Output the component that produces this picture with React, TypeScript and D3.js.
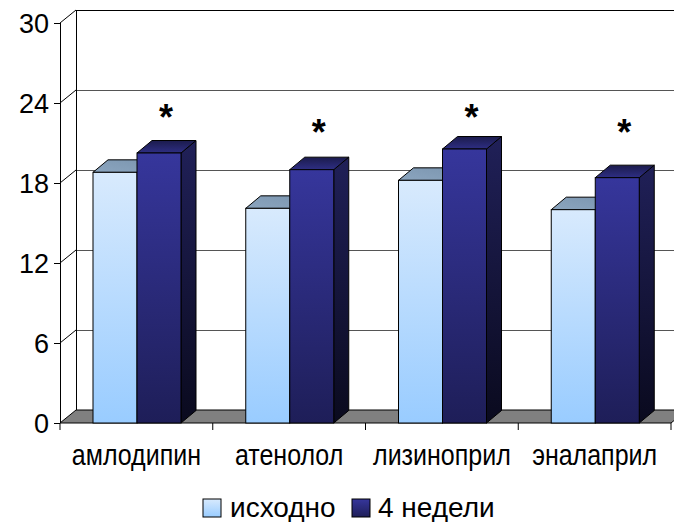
import React from "react";
import * as d3 from "d3";

const categories = ["амлодипин", "атенолол", "лизиноприл", "эналаприл"];
const seriesNames = ["исходно", "4 недели"];
const baselineValues = [18.8, 16.1, 18.2, 16.0];
const week4Values = [20.25, 19.0, 20.55, 18.4];
const yTicks = [0, 6, 12, 18, 24, 30];
const markText = ["*", "*", "*", "*"];
const markLevel = [23.5, 22.35, 23.5, 22.35];

const W = 674;
const H = 522;
const FONT = "'Liberation Sans', Arial, sans-serif";

export default function App() {
  const y = d3.scaleLinear().domain([0, 30]).range([423, 23]);
  const x0 = d3.scaleBand<string>().domain(categories).range([60, 671]);
  const x1 = d3.scaleBand<string>().domain(seriesNames).range([33, 121]);
  const WDX = 16, WDY = -13;
  const BDX = 15, BDY = -12.5;
  const x0Left = 60, x0Right = 671;
  const y0 = y(0);

  const series = [
    { name: seriesNames[0], values: baselineValues, front: "url(#gLightFront)", top: "url(#gLightTop)", side: "url(#gLightSide)" },
    { name: seriesNames[1], values: week4Values, front: "url(#gDarkFront)", top: "url(#gDarkTop)", side: "url(#gDarkSide)" },
  ];

  const pts = (a: number[][]) => a.map((p) => p.join(",")).join(" ");

  return (
    <svg width={W} height={H} style={{ position: "absolute", left: 0, top: 0, background: "#fff" }} fontFamily={FONT}>
      <defs>
        <linearGradient id="gLightFront" x1="0" y1="0" x2="0" y2="1">
          <stop offset="0" stopColor="#D8EAFD" />
          <stop offset="1" stopColor="#99CCFF" />
        </linearGradient>
        <linearGradient id="gLightTop" x1="0" y1="1" x2="1" y2="0">
          <stop offset="0" stopColor="#8BA5BF" />
          <stop offset="1" stopColor="#7C96B0" />
        </linearGradient>
        <linearGradient id="gLightSide" x1="0" y1="0" x2="0" y2="1">
          <stop offset="0" stopColor="#6F88A2" />
          <stop offset="1" stopColor="#4F6A86" />
        </linearGradient>
        <linearGradient id="gDarkFront" x1="0" y1="0" x2="0" y2="1">
          <stop offset="0" stopColor="#36369C" />
          <stop offset="1" stopColor="#1E1E58" />
        </linearGradient>
        <linearGradient id="gDarkTop" x1="0" y1="1" x2="0" y2="0">
          <stop offset="0" stopColor="#2E2E84" />
          <stop offset="1" stopColor="#1B1B4C" />
        </linearGradient>
        <linearGradient id="gDarkSide" x1="0" y1="0" x2="0" y2="1">
          <stop offset="0" stopColor="#202058" />
          <stop offset="1" stopColor="#0A0A1E" />
        </linearGradient>
        <linearGradient id="gLegLight" x1="0" y1="0" x2="0" y2="1">
          <stop offset="0" stopColor="#D8EAFD" />
          <stop offset="1" stopColor="#99CCFF" />
        </linearGradient>
        <linearGradient id="gLegDark" x1="0" y1="0" x2="0" y2="1">
          <stop offset="0" stopColor="#36369C" />
          <stop offset="1" stopColor="#1E1E58" />
        </linearGradient>
      </defs>

      {/* back wall gridlines */}
      {yTicks.slice(1).map((t) => (
        <line key={"g" + t} x1={x0Left + WDX} x2={x0Right + WDX} y1={y(t) + WDY + 0.5} y2={y(t) + WDY + 0.5}
          stroke={t === 30 ? "#000" : "#555"} strokeWidth={1} shapeRendering="crispEdges" />
      ))}
      {/* side wall diagonals */}
      {yTicks.slice(1).map((t) => (
        <line key={"d" + t} x1={x0Left} y1={y(t)} x2={x0Left + WDX} y2={y(t) + WDY} stroke="#000" strokeWidth={1} />
      ))}
      {/* back wall left edge */}
      <line x1={x0Left + WDX + 0.5} x2={x0Left + WDX + 0.5} y1={y(30) + WDY} y2={y0 + WDY} stroke="#000" strokeWidth={1} shapeRendering="crispEdges" />

      {/* floor */}
      <polygon
        points={pts([[x0Left, y0], [x0Right, y0], [x0Right + WDX, y0 + WDY], [x0Left + WDX, y0 + WDY]])}
        fill="#808080" stroke="#000" strokeWidth={1} />

      {/* front axis */}
      <line x1={x0Left + 0.5} x2={x0Left + 0.5} y1={y(30)} y2={y0} stroke="#000" strokeWidth={1} shapeRendering="crispEdges" />
      {yTicks.map((t) => (
        <g key={"t" + t}>
          <line x1={x0Left - 6} x2={x0Left} y1={y(t) + 0.5} y2={y(t) + 0.5} stroke="#000" strokeWidth={1} shapeRendering="crispEdges" />
          <text x={49} y={y(t) + 10} textAnchor="end" fontSize={27} fill="#000">{t}</text>
        </g>
      ))}
      {/* category ticks */}
      {[...categories.map((c) => x0(c) as number), x0Right].map((xv, i) => (
        <line key={"ct" + i} x1={xv} x2={xv} y1={y0} y2={y0 + 7} stroke="#000" strokeWidth={1} />
      ))}

      {/* bars */}
      {categories.map((c, ci) => (
        <g key={c}>
          {series.map((s) => {
            const xl = (x0(c) as number) + (x1(s.name) as number);
            const xr = xl + x1.bandwidth();
            const yt = y(s.values[ci]);
            return (
              <g key={s.name}>
                <polygon points={pts([[xr, yt], [xr + BDX, yt + BDY], [xr + BDX, y0 + BDY], [xr, y0]])}
                  fill={s.side} stroke="#000" strokeWidth={1} strokeLinejoin="round" />
                <polygon points={pts([[xl, yt], [xr, yt], [xr + BDX, yt + BDY], [xl + BDX, yt + BDY]])}
                  fill={s.top} stroke="#000" strokeWidth={1} strokeLinejoin="round" />
                <rect x={xl} y={yt} width={xr - xl} height={y0 - yt} fill={s.front} stroke="#000" strokeWidth={1} />
              </g>
            );
          })}
          <text x={(x0(c) as number) + (x1(seriesNames[1]) as number) + x1.bandwidth() / 2 + 7}
            y={y(markLevel[ci]) + 20} textAnchor="middle" fontSize={36} fontWeight="bold" fill="#000">{markText[ci]}</text>
          <text transform={`translate(${(x0(c) as number) + x0.bandwidth() / 2},465) scale(1,1.15)`}
            textAnchor="middle" fontSize={25} fill="#000">{c}</text>
        </g>
      ))}

      {/* legend */}
      <rect x={203} y={499} width={18} height={18} fill="url(#gLegLight)" stroke="#000" strokeWidth={1} />
      <text x={230} y={517} fontSize={28} fill="#000">{seriesNames[0]}</text>
      <rect x={352} y={499} width={18} height={18} fill="url(#gLegDark)" stroke="#000" strokeWidth={1} />
      <text x={378} y={517} fontSize={28} fill="#000">{seriesNames[1]}</text>
    </svg>
  );
}
